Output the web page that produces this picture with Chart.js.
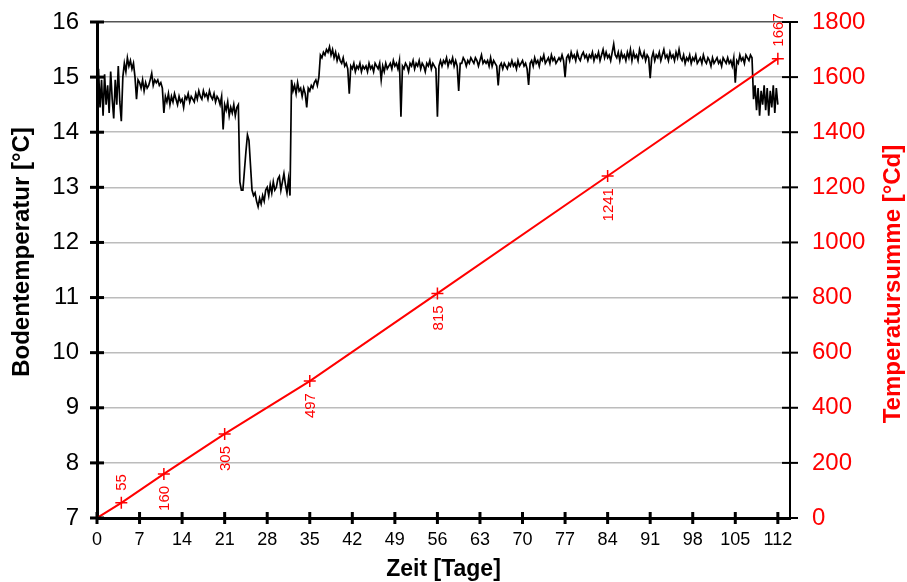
<!DOCTYPE html>
<html lang="de">
<head>
<meta charset="utf-8">
<title>Bodentemperatur und Temperatursumme</title>
<script src="https://cdn.jsdelivr.net/npm/chart.js@4.4.1/dist/chart.umd.min.js"></script>
<style>
  html, body { margin: 0; padding: 0; background: #fff; }
  #wrap { width: 907px; height: 582px; }
</style>
</head>
<body>
<div id="wrap"><canvas id="chart" width="907" height="582"></canvas></div>
<script>
// Bodentemperatur, ein Wert alle 0,25 Tage ab Tag 0, eine Zeile = 2 Tage
const tempStep = 0.25;
const bodenTemp = [
  14.7, 15.15, 14.45, 14.95, 14.3, 15.05, 14.5, 14.85,
  14.35, 15.1, 14.6, 14.25, 14.95, 14.5, 15.2, 14.55,
  14.2, 15.0, 15.25, 15.1, 15.35, 15.2, 15.3, 15.15,
  15.25, 15.0, 14.6, 14.95, 14.9, 14.8, 14.95, 14.75,
  14.9, 14.8, 14.85, 14.95, 15.07, 14.85, 14.95, 14.9,
  14.95, 14.85, 14.9, 14.8, 14.35, 14.65, 14.55, 14.7,
  14.5, 14.65, 14.55, 14.7, 14.6, 14.5, 14.65, 14.55,
  14.6, 14.45, 14.65, 14.6, 14.7, 14.55, 14.65, 14.6,
  14.55, 14.7, 14.6, 14.75, 14.65, 14.6, 14.75, 14.65,
  14.7, 14.6, 14.75, 14.65, 14.6, 14.7, 14.55, 14.65,
  14.6, 14.5, 14.65, 14.05, 14.5, 14.4, 14.55, 14.3,
  14.45, 14.35, 14.5, 14.3, 14.45, 14.5, 13.1, 12.95,
  12.95, 13.3, 13.65, 13.95, 13.85, 13.4, 12.95, 12.85,
  12.9, 12.75, 12.65, 12.8, 12.7, 12.85, 12.75, 12.95,
  13.0, 12.85, 13.05, 12.9, 13.1, 12.95, 13.0, 13.15,
  13.2, 12.95, 13.1, 13.25, 13.05, 12.9, 13.15, 12.85,
  14.95, 14.75, 14.85, 14.7, 14.9, 14.75, 14.8, 14.65,
  14.8, 14.7, 14.45, 14.8, 14.75, 14.85, 14.8, 14.9,
  14.95, 14.85, 15.0, 15.4, 15.35, 15.45, 15.4, 15.5,
  15.45, 15.55, 15.4, 15.5, 15.35, 15.45, 15.3, 15.4,
  15.3, 15.25, 15.35, 15.2, 15.25, 15.15, 14.7, 15.2,
  15.15, 15.25, 15.1, 15.2, 15.15, 15.25, 15.1, 15.2,
  15.15, 15.2, 15.1, 15.25, 15.15, 15.2, 15.1, 15.25,
  15.2, 15.15, 15.25, 14.95, 15.2, 15.1, 15.25, 15.15,
  15.2, 15.25, 15.15, 15.3, 15.2, 15.25, 15.15, 15.3,
  14.28, 15.2, 15.15, 15.25, 15.2, 15.1, 15.25, 15.2,
  15.3, 15.15, 15.25, 15.2, 15.3, 15.15, 15.25, 15.2,
  15.1, 15.25, 15.2, 15.3, 15.15, 15.25, 15.2, 15.15,
  14.28, 15.2, 15.3, 15.2, 15.3, 15.25, 15.35, 15.2,
  15.3, 15.25, 15.35, 15.2, 15.3, 15.2, 14.75, 15.25,
  15.25, 15.35, 15.3, 15.2, 15.3, 15.25, 15.35, 15.3,
  15.25, 15.35, 15.3, 15.2, 15.3, 15.4, 15.25, 15.3,
  15.25, 15.3, 15.2, 15.35, 15.2, 15.3, 15.25, 15.2,
  14.85, 15.2, 15.25, 15.15, 15.25, 15.2, 15.15, 15.25,
  15.2, 15.3, 15.2, 15.25, 15.15, 15.3, 15.2, 15.25,
  15.3, 15.2, 15.25, 15.15, 14.86, 15.25, 15.3, 15.2,
  15.35, 15.25, 15.3, 15.2, 15.35, 15.3, 15.4, 15.25,
  15.3, 15.35, 15.25, 15.4, 15.3, 15.35, 15.25, 15.3,
  15.35, 15.3, 15.4, 15.3, 15.0, 15.35, 15.4, 15.3,
  15.45, 15.35, 15.4, 15.3, 15.45, 15.35, 15.3, 15.4,
  15.45, 15.35, 15.4, 15.3, 15.4, 15.35, 15.45, 15.3,
  15.4, 15.35, 15.45, 15.3, 15.4, 15.5, 15.35, 15.45,
  15.35, 15.4, 15.3, 15.45, 15.6, 15.4, 15.35, 15.45,
  15.3, 15.45, 15.35, 15.4, 15.3, 15.45, 15.35, 15.5,
  15.3, 15.45, 15.35, 15.4, 15.3, 15.5, 15.4, 15.35,
  15.45, 15.3, 15.4, 15.35, 14.98, 15.35, 15.45, 15.3,
  15.4, 15.35, 15.45, 15.3, 15.4, 15.5, 15.35, 15.4,
  15.3, 15.45, 15.35, 15.4, 15.3, 15.45, 15.35, 15.5,
  15.35, 15.3, 15.4, 15.25, 15.35, 15.3, 15.4, 15.25,
  15.35, 15.3, 15.4, 15.25, 15.3, 15.35, 15.25, 15.4,
  15.3, 15.25, 15.35, 15.3, 15.2, 15.35, 15.25, 15.3,
  15.35, 15.25, 15.3, 15.2, 15.35, 15.3, 15.25, 15.35,
  15.25, 15.3, 15.2, 15.35, 14.9, 15.3, 15.25, 15.4,
  15.3, 15.35, 15.25, 15.4, 15.35, 15.3, 15.4, 15.35,
  14.6, 14.85, 14.4, 14.8, 14.3, 14.75, 14.5, 14.85,
  14.4, 14.8, 14.3, 14.75, 14.45, 14.85, 14.35, 14.8,
  14.5
];

// Temperatursumme [°Cd]
const summeTage = [0, 4, 11, 21, 35, 56, 84, 112];
const summeWerte = [0, 55, 160, 305, 497, 815, 1241, 1667];
const summeLabelOben = [false, true, false, false, false, false, false, true];

// Achsen
const xTicks = [0, 7, 14, 21, 28, 35, 42, 49, 56, 63, 70, 77, 84, 91, 98, 105, 112];
const yLinks = { min: 7, max: 16, step: 1 };
const yRechts = { min: 0, max: 1800, step: 200 };

const ROT = '#ff0000';
const FONT = '"Liberation Sans", Arial, sans-serif';
const UNSICHTBAR = 'rgba(0,0,0,0)';

const tempPunkte = bodenTemp.map((v, i) => ({ x: i * tempStep, y: v }));
const summePunkte = summeTage.map((t, i) => ({ x: t, y: summeWerte[i] }));

// Achsenstriche (kreuzend), Titel und Werte an der roten Linie
const extrasPlugin = {
  id: 'extras',
  afterDatasetsDraw(chart) {
    const ctx = chart.ctx;
    const meta = chart.getDatasetMeta(0);
    ctx.save();
    ctx.fillStyle = ROT;
    ctx.font = '15px ' + FONT;
    ctx.textBaseline = 'middle';
    meta.data.forEach((el, i) => {
      if (i === 0) return;
      ctx.save();
      if (summeLabelOben[i]) {
        ctx.translate(el.x, el.y - 12);
        ctx.rotate(-Math.PI / 2);
        ctx.textAlign = 'left';
      } else {
        ctx.translate(el.x, el.y + 12);
        ctx.rotate(-Math.PI / 2);
        ctx.textAlign = 'right';
      }
      ctx.fillText(String(summeWerte[i]), 0, 1);
      ctx.restore();
    });
    ctx.restore();
  },
  afterDraw(chart) {
    const { ctx, chartArea: a, scales } = chart;
    const strich = (x1, y1, x2, y2) => { ctx.beginPath(); ctx.moveTo(x1, y1); ctx.lineTo(x2, y2); ctx.stroke(); };
    ctx.save();
    ctx.strokeStyle = '#000';
    ctx.lineWidth = 3;
    scales.y.ticks.forEach(t => { const p = scales.y.getPixelForValue(t.value); strich(a.left - 7, p, a.left + 7, p); });
    scales.x.ticks.forEach(t => { const p = scales.x.getPixelForValue(t.value); strich(p, a.bottom - 6, p, a.bottom + 6); });
    ctx.lineWidth = 2;
    scales.y2.ticks.forEach(t => { const p = scales.y2.getPixelForValue(t.value); strich(a.right - 8, p, a.right + 8, p); });

    // Achsentitel
    const mitteY = (a.top + a.bottom) / 2;
    ctx.font = 'bold 23px ' + FONT;
    ctx.textAlign = 'center';
    ctx.textBaseline = 'middle';
    ctx.fillStyle = '#000';
    ctx.fillText('Zeit [Tage]', (a.left + a.right) / 2, 570);
    ctx.font = 'bold 24px ' + FONT;
    ctx.save();
    ctx.translate(22, mitteY - 18);
    ctx.rotate(-Math.PI / 2);
    ctx.fillText('Bodentemperatur [°C]', 0, 0);
    ctx.restore();
    ctx.save();
    ctx.fillStyle = ROT;
    ctx.translate(893, mitteY + 14);
    ctx.rotate(-Math.PI / 2);
    ctx.fillText('Temperatursumme [°Cd]', 0, 0);
    ctx.restore();
    ctx.restore();
  }
};

new Chart(document.getElementById('chart'), {
  type: 'line',
  data: {
    datasets: [
      {
        label: 'Temperatursumme',
        data: summePunkte,
        yAxisID: 'y2',
        borderColor: ROT,
        borderWidth: 2,
        pointStyle: 'cross',
        pointRadius: summeTage.map((t, i) => i === 0 ? 0 : 6),
        pointBorderColor: ROT,
        pointBorderWidth: 1.5,
        tension: 0,
        order: 0
      },
      {
        label: 'Bodentemperatur',
        data: tempPunkte,
        yAxisID: 'y',
        borderColor: '#000',
        borderWidth: 1.7,
        pointRadius: 0,
        tension: 0,
        order: 1
      }
    ]
  },
  options: {
    responsive: false,
    animation: false,
    layout: { padding: { top: 22, left: 0, right: 0, bottom: 0 } },
    plugins: { legend: { display: false }, tooltip: { enabled: false } },
    scales: {
      x: {
        type: 'linear',
        min: 0,
        max: 114,
        afterBuildTicks: s => { s.ticks = xTicks.map(v => ({ value: v })); },
        afterFit: s => { s.height = 64; },
        ticks: { color: '#000', font: { family: FONT, size: 18 }, padding: 11, maxRotation: 0, autoSkip: false },
        grid: { display: false, drawTicks: false },
        border: { color: '#000', width: 3 }
      },
      y: {
        position: 'left',
        min: yLinks.min,
        max: yLinks.max,
        ticks: { stepSize: yLinks.step, color: '#000', font: { family: FONT, size: 24 }, padding: 2 },
        afterFit: s => { s.width = 97; },
        grid: {
          drawTicks: true,
          tickLength: 16,
          tickColor: UNSICHTBAR,
          color: c => c.tick && c.tick.value === yLinks.max ? '#555' : '#bcbcbc',
          lineWidth: 1.5
        },
        border: { color: '#000', width: 3 }
      },
      y2: {
        position: 'right',
        min: yRechts.min,
        max: yRechts.max,
        ticks: { stepSize: yRechts.step, color: ROT, font: { family: FONT, size: 24 }, padding: 3, callback: v => String(v) },
        afterFit: s => { s.width = 117; },
        grid: { drawOnChartArea: false, drawTicks: true, tickLength: 19, tickColor: UNSICHTBAR },
        border: { color: '#000', width: 2 }
      }
    }
  },
  plugins: [extrasPlugin]
});
</script>
</body>
</html>
